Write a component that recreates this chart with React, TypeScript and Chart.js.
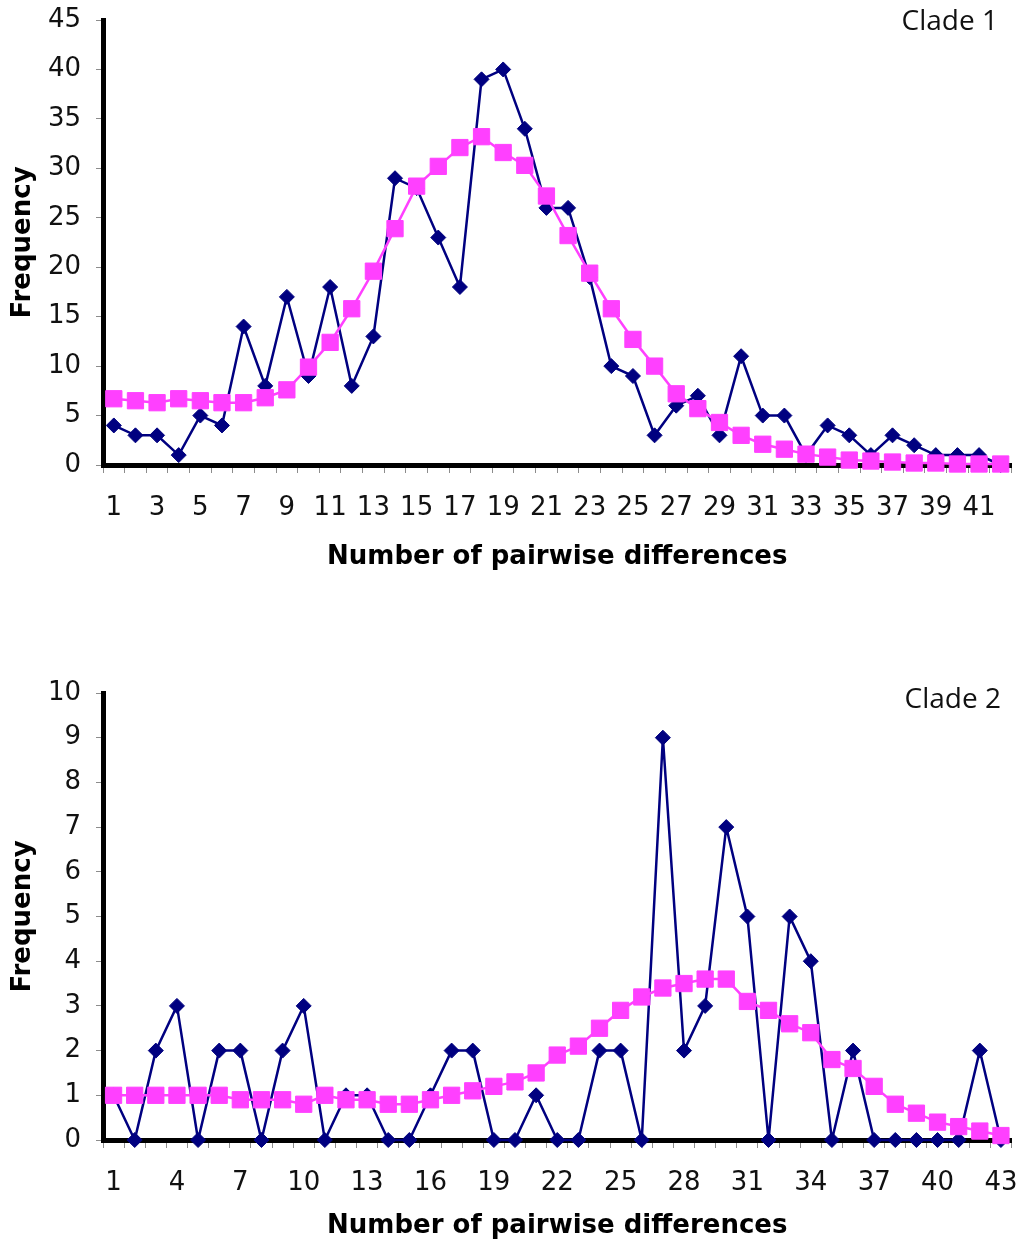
import React, { useEffect, useRef } from "react";
import { Chart, registerables } from "chart.js";

Chart.register(...registerables);

// Clade 1: number of pairwise differences (x categories)
const clade1Categories = [
  "1", "2", "3", "4", "5", "6", "7", "8", "9", "10", "11", "12", "13", "14",
  "15", "16", "17", "18", "19", "20", "21", "22", "23", "24", "25", "26", "27", "28",
  "29", "30", "31", "32", "33", "34", "35", "36", "37", "38", "39", "40", "41", "42",
];
// Observed mismatch frequencies, clade 1
const clade1Observed = [
  4, 3, 3, 1, 5, 4, 14, 8, 17, 9, 18, 8, 13, 29,
  28, 23, 18, 39, 40, 34, 26, 26, 19, 10, 9, 3, 6, 7,
  3, 11, 5, 5, 1, 4, 3, 1, 3, 2, 1, 1, 1, 0,
];
// Expected frequencies under the expansion model, clade 1
const clade1Expected = [
  6.7, 6.5, 6.3, 6.7, 6.5, 6.3, 6.3, 6.8, 7.6, 9.9, 12.4, 15.8, 19.6, 23.9,
  28.2, 30.2, 32.1, 33.2, 31.6, 30.3, 27.2, 23.2, 19.4, 15.8, 12.7, 10.0, 7.2, 5.7,
  4.3, 3.0, 2.1, 1.6, 1.1, 0.8, 0.5, 0.4, 0.3, 0.2, 0.2, 0.1, 0.1, 0.1,
];

// Clade 2
const clade2Categories = [
  "1", "2", "3", "4", "5", "6", "7", "8", "9", "10", "11", "12", "13", "14", "15",
  "16", "17", "18", "19", "20", "21", "22", "23", "24", "25", "26", "27", "28", "29",
  "30", "31", "32", "33", "34", "35", "36", "37", "38", "39", "40", "41", "42", "43",
];
const clade2Observed = [
  1, 0, 2, 3, 0, 2, 2, 0, 2, 3, 0, 1, 1, 0, 0,
  1, 2, 2, 0, 0, 1, 0, 0, 2, 2, 0, 9, 2, 3,
  7, 5, 0, 5, 4, 0, 2, 0, 0, 0, 0, 0, 2, 0,
];
const clade2Expected = [
  1.0, 1.0, 1.0, 1.0, 1.0, 1.0, 0.9, 0.9, 0.9, 0.8, 1.0, 0.9, 0.9, 0.8, 0.8,
  0.9, 1.0, 1.1, 1.2, 1.3, 1.5, 1.9, 2.1, 2.5, 2.9, 3.2, 3.4, 3.5, 3.6,
  3.6, 3.1, 2.9, 2.6, 2.4, 1.8, 1.6, 1.2, 0.8, 0.6, 0.4, 0.3, 0.2, 0.1,
];

const NAVY = "#000080";
const MAGENTA = "#ff40ff";
const TICK_GRAY = "#8c8c8c";
const FONT = "'DejaVu Sans', Verdana, sans-serif";

// Draws the clade name in the top-right corner of the plot
const cladeLabelPlugin = {
  id: "cladeLabel",
  afterDraw(chart: any, _args: any, opts: any) {
    const { ctx } = chart;
    ctx.save();
    ctx.font = "28px 'Open Sans', sans-serif";
    ctx.fillStyle = "#111";
    ctx.textAlign = "right";
    ctx.textBaseline = "alphabetic";
    ctx.fillText(opts.text, opts.x, opts.y);
    ctx.restore();
  },
};

type PanelProps = {
  categories: string[];
  observed: number[];
  expected: number[];
  yMax: number;
  yStep: number;
  labelEvery: number;
  clade: string;
  cladeX: number;
  cladeY: number;
  top: number;
  height: number;
  xAxisHeight: number;
  titleBottomPad: number;
  padTop: number;
};

function MismatchPanel(props: PanelProps) {
  const ref = useRef<HTMLCanvasElement | null>(null);

  useEffect(() => {
    if (!ref.current) return;
    const every = props.labelEvery;
    const chart = new Chart(ref.current, {
      type: "line",
      data: {
        labels: props.categories,
        datasets: [
          {
            label: "Observed",
            data: props.observed,
            borderColor: NAVY,
            backgroundColor: NAVY,
            pointBackgroundColor: NAVY,
            pointBorderColor: NAVY,
            borderWidth: 2.5,
            pointStyle: "rectRot",
            pointRadius: 7.5,
            pointBorderWidth: 1,
            tension: 0,
            clip: false,
            order: 1,
          },
          {
            label: "Expected",
            data: props.expected,
            borderColor: MAGENTA,
            backgroundColor: MAGENTA,
            pointBackgroundColor: MAGENTA,
            pointBorderColor: MAGENTA,
            borderWidth: 2.5,
            pointStyle: "rect",
            pointRadius: 11.5,
            pointBorderWidth: 1,
            tension: 0,
            clip: false,
            order: 0,
          },
        ],
      },
      options: {
        animation: false,
        responsive: true,
        maintainAspectRatio: false,
        layout: { padding: { top: props.padTop, right: 9, left: 0, bottom: 0 } },
        plugins: {
          legend: { display: false },
          tooltip: { enabled: false },
          cladeLabel: { text: props.clade, x: props.cladeX, y: props.cladeY },
        } as any,
        scales: {
          x: {
            type: "category",
            offset: true,
            grid: {
              display: true,
              drawOnChartArea: false,
              drawTicks: true,
              tickLength: 8,
              color: TICK_GRAY,
              offset: true,
            },
            border: { display: true, color: "#000", width: 5 },
            ticks: {
              autoSkip: false,
              maxRotation: 0,
              minRotation: 0,
              padding: 20,
              color: "#111",
              font: { family: FONT, size: 26 },
              callback: function (this: any, val: any, idx: number) {
                return idx % every === 0 ? this.getLabelForValue(val) : "";
              },
            },
            title: {
              display: true,
              text: "Number of pairwise differences",
              color: "#000",
              font: { family: FONT, size: 26, weight: "bold" },
              padding: { top: 0, bottom: props.titleBottomPad },
            },
            afterFit: (scale: any) => {
              scale.height = props.xAxisHeight;
              scale.paddingLeft = 0;
              scale.paddingRight = 0;
            },
          },
          y: {
            min: 0,
            max: props.yMax,
            grid: {
              display: true,
              drawOnChartArea: false,
              drawTicks: true,
              tickLength: 7,
              color: TICK_GRAY,
            },
            border: { display: true, color: "#000", width: 5 },
            ticks: {
              stepSize: props.yStep,
              padding: 15,
              color: "#111",
              font: { family: FONT, size: 26 },
            },
            title: {
              display: true,
              text: "Frequency",
              color: "#000",
              font: { family: FONT, size: 26, weight: "bold" },
              padding: { top: 8, bottom: 0 },
            },
            afterFit: (scale: any) => {
              scale.width = 103;
              scale.paddingTop = 0;
              scale.paddingBottom = 0;
            },
          },
        },
      } as any,
      plugins: [cladeLabelPlugin],
    });
    return () => chart.destroy();
  }, [props]);

  return (
    <div
      style={{
        position: "absolute",
        left: 0,
        top: props.top,
        width: 1024,
        height: props.height,
      }}
    >
      <canvas ref={ref} />
    </div>
  );
}

const panel1: PanelProps = {
  categories: clade1Categories,
  observed: clade1Observed,
  expected: clade1Expected,
  yMax: 45,
  yStep: 5,
  labelEvery: 2,
  clade: "Clade 1",
  cladeX: 998,
  cladeY: 30,
  top: 0,
  height: 580,
  xAxisHeight: 115,
  titleBottomPad: 7,
  padTop: 20,
};

const panel2: PanelProps = {
  categories: clade2Categories,
  observed: clade2Observed,
  expected: clade2Expected,
  yMax: 10,
  yStep: 1,
  labelEvery: 3,
  clade: "Clade 2",
  cladeX: 1001,
  cladeY: 35,
  top: 673,
  height: 569,
  xAxisHeight: 102,
  titleBottomPad: 0,
  padTop: 20,
};

export default function App() {
  return (
    <div
      style={{
        position: "absolute",
        left: 0,
        top: 0,
        width: 1024,
        height: 1242,
        background: "#fff",
        overflow: "hidden",
      }}
    >
      <MismatchPanel {...panel1} />
      <MismatchPanel {...panel2} />
    </div>
  );
}
